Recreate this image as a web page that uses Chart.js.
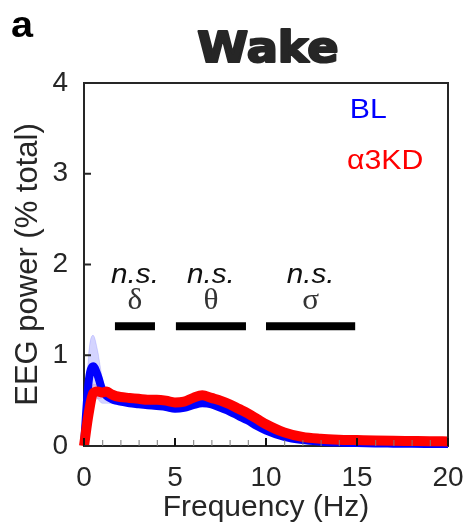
<!DOCTYPE html>
<html>
<head>
<meta charset="utf-8">
<script src="https://cdn.jsdelivr.net/npm/chart.js@4/dist/chart.umd.min.js"></script>
<style>
html,body{margin:0;padding:0;background:#fff;}
#wrap{width:472px;height:527px;}
</style>
</head>
<body>
<div id="wrap"><canvas id="c" width="472" height="527"></canvas></div>
<script>
// ---- data ----
const freqs = [0,0.25,0.5,0.75,1,1.25,1.5,1.75,2, 2.5,3,3.5,4,4.5,5,5.5,6,6.5,7,7.5,8,8.5,9,9.5,10, 11,12,13,14,15,16,17,18,19,20];
const blMean = [0.02,0.70,0.88,0.78,0.62,0.55,0.52,0.50,0.49, 0.47,0.46,0.45,0.44,0.43,0.41,0.42,0.45,0.47,0.46,0.42,0.38,0.33,0.28,0.22,0.17, 0.10,0.065,0.048,0.038,0.032,0.028,0.026,0.024,0.023,0.022];
const blUpper = [0.05,1.00,1.22,1.05,0.76,0.62,0.56,0.53,0.51, 0.49,0.48,0.47,0.46,0.45,0.43,0.44,0.47,0.49,0.48,0.44,0.40,0.35,0.30,0.24,0.19, 0.11,0.075,0.055,0.045,0.038,0.034,0.031,0.029,0.028,0.027];
const blLower = [0.0,0.42,0.58,0.52,0.47,0.47,0.47,0.47,0.47, 0.45,0.44,0.43,0.42,0.41,0.39,0.40,0.43,0.45,0.44,0.40,0.36,0.31,0.26,0.20,0.15, 0.09,0.055,0.041,0.031,0.026,0.022,0.021,0.019,0.018,0.017];
const kdMean = [0.0,0.35,0.58,0.60,0.59,0.60,0.57,0.55,0.54, 0.53,0.52,0.51,0.51,0.50,0.48,0.49,0.53,0.56,0.53,0.50,0.46,0.41,0.36,0.30,0.24, 0.15,0.10,0.08,0.07,0.065,0.06,0.057,0.055,0.053,0.05];
const kdUpper = [0.02,0.45,0.68,0.68,0.65,0.64,0.60,0.57,0.56, 0.55,0.54,0.53,0.53,0.52,0.50,0.51,0.55,0.58,0.55,0.52,0.48,0.43,0.38,0.32,0.26, 0.16,0.11,0.09,0.08,0.074,0.068,0.064,0.062,0.06,0.057];
const kdLower = [0.0,0.25,0.48,0.52,0.53,0.56,0.54,0.53,0.52, 0.51,0.50,0.49,0.49,0.48,0.46,0.47,0.51,0.54,0.51,0.48,0.44,0.39,0.34,0.28,0.22, 0.14,0.09,0.07,0.06,0.056,0.052,0.05,0.048,0.046,0.043];
const bandNames = ['δ','θ','σ'];
const bandStart = [1.7, 5.05, 10.0];
const bandEnd = [3.9, 8.9, 14.9];
const bandLevel = 1.32;
const bandSig = ['n.s.','n.s.','n.s.'];
const seriesNames = ['BL','α3KD'];
const xTicks = [0,5,10,15,20];
const yTicks = [0,1,2,3,4];

// ---- build ----
const pts = arr => freqs.map((f,i)=>({x:f,y:arr[i]}));
const TXT = '#262626';
const SANS = '"Liberation Sans", Arial, sans-serif';
const datasets = [
  {data:pts(kdMean), borderColor:'#ff0000', borderWidth:10, pointRadius:0, cubicInterpolationMode:'monotone', fill:false, order:0, clip:false},
  {data:pts(blMean), borderColor:'#0000ff', borderWidth:8, pointRadius:0, cubicInterpolationMode:'monotone', fill:false, order:1, clip:false},
  {data:pts(blUpper), borderColor:'rgba(0,0,255,0.12)', borderWidth:1, backgroundColor:'rgba(100,100,255,0.28)', pointRadius:0, cubicInterpolationMode:'monotone', fill:'+1', order:2},
  {data:pts(blLower), borderColor:'rgba(0,0,255,0.12)', borderWidth:1, pointRadius:0, cubicInterpolationMode:'monotone', fill:false, order:2},
  {data:pts(kdUpper), borderColor:'rgba(255,0,0,0.12)', borderWidth:1, backgroundColor:'rgba(255,90,90,0.25)', pointRadius:0, cubicInterpolationMode:'monotone', fill:'+1', order:3},
  {data:pts(kdLower), borderColor:'rgba(255,0,0,0.12)', borderWidth:1, pointRadius:0, cubicInterpolationMode:'monotone', fill:false, order:3}
];
bandNames.forEach((n,i)=>{
  datasets.push({data:[{x:bandStart[i],y:bandLevel},{x:bandEnd[i],y:bandLevel}], borderColor:'#000', borderWidth:8, borderCapStyle:'butt', pointRadius:0, fill:false, order:0});
});

function wideText(ctx, txt, x, y, sx, align){
  ctx.save();
  ctx.translate(x, y); ctx.scale(sx, 1);
  ctx.textAlign = align;
  ctx.fillText(txt, 0, 0);
  ctx.restore();
}

const decor = {
  id:'decor',
  afterDatasetsDraw(chart){
    const ctx = chart.ctx, a = chart.chartArea, sx = chart.scales.x, sy = chart.scales.y;
    ctx.save();
    ctx.strokeStyle = TXT; ctx.lineWidth = 2;
    ctx.beginPath();
    ctx.moveTo(a.left, a.top); ctx.lineTo(a.right, a.top); ctx.lineTo(a.right, a.bottom);
    ctx.stroke();
    for(let v=1; v<20; v++){
      if(v%5===0) continue;
      const px = sx.getPixelForValue(v);
      ctx.strokeStyle='#7a7a7a'; ctx.lineWidth=1;
      ctx.beginPath(); ctx.moveTo(px+0.5,a.bottom); ctx.lineTo(px+0.5,a.bottom-6); ctx.stroke();
    }
    xTicks.forEach(v=>{
      const px = sx.getPixelForValue(v);
      ctx.strokeStyle='#111'; ctx.lineWidth=2;
      ctx.beginPath(); ctx.moveTo(px,a.bottom); ctx.lineTo(px,a.bottom-8); ctx.stroke();
    });
    yTicks.forEach(v=>{
      const py = sy.getPixelForValue(v);
      ctx.strokeStyle=TXT; ctx.lineWidth=2;
      ctx.beginPath(); ctx.moveTo(a.left,py); ctx.lineTo(a.left+7,py); ctx.stroke();
    });
    ctx.textBaseline='alphabetic';
    bandNames.forEach((n,i)=>{
      const cx = sx.getPixelForValue((bandStart[i]+bandEnd[i])/2);
      ctx.fillStyle='#111';
      ctx.font='italic 28px ' + SANS;
      wideText(ctx, bandSig[i], cx, sy.getPixelForValue(1.80), 1.06, 'center');
      ctx.fillStyle='#333';
      ctx.font='29px "Liberation Serif", "Times New Roman", serif';
      wideText(ctx, n, cx, sy.getPixelForValue(1.51), 1.08, 'center');
    });
    ctx.font='28px ' + SANS;
    ctx.fillStyle='#0000ff';
    wideText(ctx, seriesNames[0], sx.getPixelForValue(14.6), sy.getPixelForValue(3.61), 1.08, 'left');
    ctx.fillStyle='#ff0000';
    wideText(ctx, seriesNames[1], sx.getPixelForValue(14.45), sy.getPixelForValue(3.05), 1.08, 'left');
    // title and panel letter
    ctx.fillStyle=TXT; ctx.strokeStyle=TXT; ctx.lineWidth=2.2; ctx.lineJoin='round';
    ctx.font='bold 42px "DejaVu Sans", sans-serif';
    ctx.save(); ctx.translate(268,62); ctx.scale(1.1,1); ctx.textAlign='center';
    ctx.fillText('Wake',0,0); ctx.strokeText('Wake',0,0); ctx.restore();
    ctx.fillStyle='#000';
    ctx.font='bold 36px ' + SANS;
    wideText(ctx, 'a', 11, 37, 1.1, 'left');
    ctx.restore();
  }
};

new Chart(document.getElementById('c'), {
  type:'line',
  data:{datasets},
  plugins:[decor],
  options:{
    responsive:false, animation:false, devicePixelRatio:1,
    layout:{padding:{top:83,right:24,left:0,bottom:0}},
    plugins:{legend:{display:false}, tooltip:{enabled:false}},
    scales:{
      x:{type:'linear', min:0, max:20,
        afterFit(s){ s.height = 81; },
        afterBuildTicks(s){ s.ticks = xTicks.map(v=>({value:v})); },
        grid:{display:false}, border:{display:true,color:TXT,width:2},
        ticks:{color:TXT, font:{family:SANS, size:28}, padding:7, maxRotation:0, autoSkip:false},
        title:{display:true, text:'Frequency (Hz)', color:TXT, font:{family:SANS, size:30}, padding:{top:0,bottom:1}}
      },
      y:{type:'linear', min:0, max:4,
        afterFit(s){ s.width = 84; },
        afterBuildTicks(s){ s.ticks = yTicks.map(v=>({value:v})); },
        grid:{display:false}, border:{display:true,color:TXT,width:2},
        ticks:{color:TXT, font:{family:SANS, size:28}, padding:8},
        title:{display:true, text:'EEG power (% total)', color:TXT, font:{family:SANS, size:31}, padding:{top:10,bottom:0}}
      }
    }
  }
});
</script>
</body>
</html>
